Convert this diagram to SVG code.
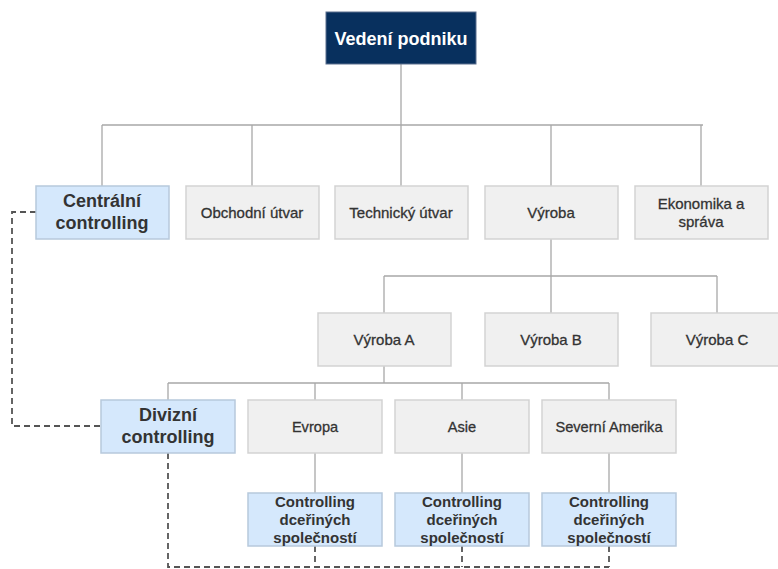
<svg xmlns="http://www.w3.org/2000/svg" width="778" height="569" viewBox="0 0 778 569">
<style>
.g{fill:#f0f0f0;stroke:#d3d3d3;stroke-width:1.5}
.b{fill:#d5e8fc;stroke:#b7c9dc;stroke-width:1.5}
.t{font-family:"Liberation Sans",Arial,sans-serif;font-size:15px;fill:#333;stroke:#333;stroke-width:0.3;text-anchor:middle}
.s{font-size:14.6px}
.tb{font-family:"Liberation Sans",Arial,sans-serif;font-size:18px;font-weight:bold;fill:#333;text-anchor:middle}
.tc{font-family:"Liberation Sans",Arial,sans-serif;font-size:15px;font-weight:bold;fill:#333;text-anchor:middle}
.ln{fill:none;stroke:#a8a8a8;stroke-width:1.3}
.ds{fill:none;stroke:#555;stroke-width:1.8;stroke-dasharray:6 4}
</style>
<rect width="778" height="569" fill="#fff"/>
<g id="connectors">
<path class="ln" d="M401 64V125M102 125H703M102 125V186M252 125V186M401 125V186M551 125V186M701 125V186"/>
<path class="ln" d="M551 239V276M384 276H717M384 276V313M551 276V313M717 276V313"/>
<path class="ln" d="M384 366V383M168 383H609M168 383V400M315 383V400M462 383V400M609 383V400"/>
<path class="ln" d="M315 453V493M462 453V493M609 453V493"/>
<path class="ds" d="M36 212H12V426H101"/>
<path class="ds" d="M168 453V567H609M315 546V567M462 546V567M609 546V567"/>
</g>
<g id="vedeni"><rect x="326" y="12" width="150" height="52" fill="#08305e" stroke="#5a6f8e" stroke-width="1"/><text x="401" y="45" font-family="'Liberation Sans',Arial,sans-serif" font-size="18" font-weight="bold" fill="#fff" text-anchor="middle">Vedení podniku</text></g>
<g id="centralni"><rect class="b" x="36" y="186" width="133" height="53"/><text class="tb" x="102" y="207">Centrální</text><text class="tb" x="102" y="229">controlling</text></g>
<g id="obchodni"><rect class="g" x="186" y="186" width="133" height="53"/><text class="t" x="252" y="218">Obchodní útvar</text></g>
<g id="technicky"><rect class="g" x="335" y="186" width="133" height="53"/><text class="t" x="401" y="218">Technický útvar</text></g>
<g id="vyroba"><rect class="g" x="485" y="186" width="133" height="53"/><text class="t" x="551" y="218">Výroba</text></g>
<g id="ekonomika"><rect class="g" x="635" y="186" width="133" height="53"/><text class="t" x="701" y="209">Ekonomika a</text><text class="t" x="701" y="227">správa</text></g>
<g id="vyrobaA"><rect class="g" x="318" y="313" width="133" height="53"/><text class="t" x="384" y="345">Výroba A</text></g>
<g id="vyrobaB"><rect class="g" x="485" y="313" width="133" height="53"/><text class="t" x="551" y="345">Výroba B</text></g>
<g id="vyrobaC"><rect class="g" x="651" y="313" width="133" height="53"/><text class="t" x="717" y="345">Výroba C</text></g>
<g id="divizni"><rect class="b" x="101" y="400" width="134" height="53"/><text class="tb" x="168" y="421">Divizní</text><text class="tb" x="168" y="443">controlling</text></g>
<g id="evropa"><rect class="g" x="248" y="400" width="134" height="53"/><text class="t s" x="315" y="432">Evropa</text></g>
<g id="asie"><rect class="g" x="395" y="400" width="134" height="53"/><text class="t s" x="462" y="432">Asie</text></g>
<g id="amerika"><rect class="g" x="542" y="400" width="134" height="53"/><text class="t s" x="609" y="432">Severní Amerika</text></g>
<g id="ctrl1"><rect class="b" x="248" y="493" width="134" height="53"/><text class="tc" x="315" y="507">Controlling</text><text class="tc" x="315" y="525">dceřiných</text><text class="tc" x="315" y="543">společností</text></g>
<g id="ctrl2"><rect class="b" x="395" y="493" width="134" height="53"/><text class="tc" x="462" y="507">Controlling</text><text class="tc" x="462" y="525">dceřiných</text><text class="tc" x="462" y="543">společností</text></g>
<g id="ctrl3"><rect class="b" x="542" y="493" width="134" height="53"/><text class="tc" x="609" y="507">Controlling</text><text class="tc" x="609" y="525">dceřiných</text><text class="tc" x="609" y="543">společností</text></g>
</svg>
